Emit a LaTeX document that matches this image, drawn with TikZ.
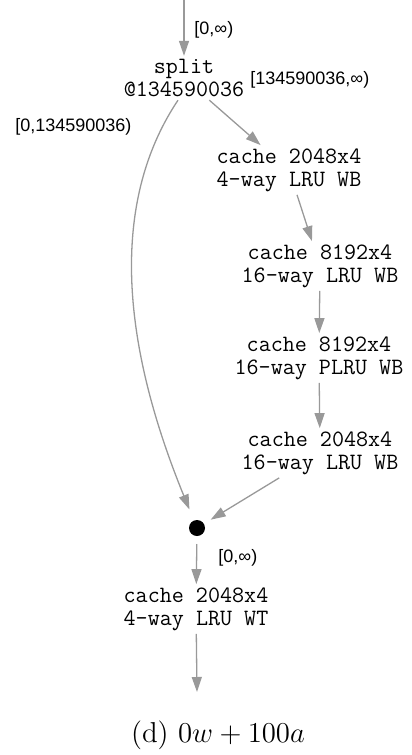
\documentclass[tikz,border=0pt]{standalone}
\usepackage{fontspec}
\usetikzlibrary{arrows.meta}
\newfontfamily\lblfont{Liberation Sans}

\tikzset{
  cache/.style={font=\ttfamily\fontsize{11.7}{11.5}\selectfont, align=center, inner sep=1.5pt},
  lbl/.style={font=\lblfont\fontsize{9}{10}\selectfont, inner sep=0pt},
  edge/.style={draw=black!40, line width=0.65pt, -{Triangle[length=7.5pt,width=5pt]}},
}

\begin{document}
\begin{tikzpicture}[x=0.5pt, y=-0.5pt]

	\useasboundingbox (0,0) rectangle (412,755);

	% the chain of caches
	\node[cache] (split) at (184,78) {split\\@134590036};
	\node[cache] (c1) at (289,170) {cache 2048x4\\4-way LRU WB};
	\node[cache] (c2) at (320,266) {cache 8192x4\\16-way LRU WB};
	\node[cache] (c3) at (319,358) {cache 8192x4\\16-way PLRU WB};
	\node[cache] (c4) at (320,453) {cache 2048x4\\16-way LRU WB};
	\node[cache] (c5) at (196,609) {cache 2048x4\\4-way LRU WT};

	% merge point
	\fill (197,528) circle (8) coordinate (join);
	\coordinate (in) at (184,0);
	\coordinate (out) at (197,692);

	\draw[edge] (in) -- (split);
	\draw[edge] (split) -- (c1);
	\draw[edge] (c1) -- (c2);
	\draw[edge] (c2) -- (c3);
	\draw[edge] (c3) -- (c4);
	\draw[edge, shorten >=8] (c4) -- (join);
	\draw[edge, shorten >=10] (split.south) ++(-6,0) .. controls (118,190) and (112,320) .. (join);
	\draw[edge, shorten <=8] (join) -- (c5);
	\draw[edge] (c5) -- (out);

	% ranges on the edges
	\node[lbl, anchor=west] (r0) at (194,30) {[0,∞)};
	\node[lbl, anchor=west] (r1) at (250,80) {[134590036,∞)};
	\node[lbl, anchor=west] (r2) at (15,127) {[0,134590036)};
	\node[lbl, anchor=west] (r3) at (218,558) {[0,∞)};

	\node[font=\fontsize{14.4}{17}\selectfont] (cap) at (218,735) {(d) $0w+100a$};

\end{tikzpicture}
\end{document}
